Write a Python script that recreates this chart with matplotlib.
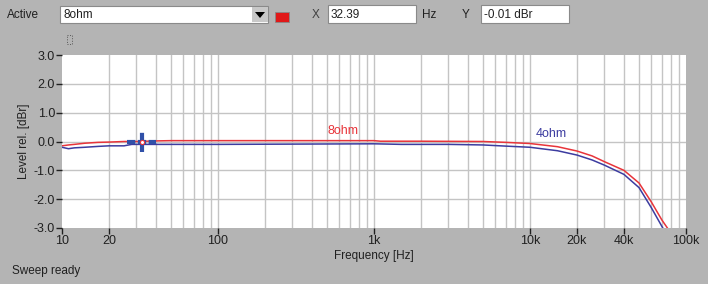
import matplotlib.pyplot as plt
from matplotlib.patches import Rectangle, Polygon

plt.rcParams['font.family'] = ['Liberation Sans', 'DejaVu Sans']

# 8ohm curve
f_8 = [10, 11, 12, 14, 17, 20, 25, 30, 40, 50, 100, 500, 1000, 1100, 2000,
       5000, 7000, 10000, 15000, 20000, 25000, 30000, 40000, 50000, 60000,
       70000, 76000]
lv_8 = [-0.15, -0.12, -0.1, -0.06, -0.03, -0.02, 0.0, 0.0, 0.02, 0.03, 0.03,
        0.03, 0.03, 0.01, 0.01, 0.0, -0.03, -0.07, -0.18, -0.33, -0.5, -0.7,
        -1.0, -1.44, -2.1, -2.72, -3.0]

# 4ohm curve
f_4 = [10, 11, 12, 14, 17, 20, 25, 28, 40, 100, 1000, 1500, 3000, 5000, 7000,
       10000, 15000, 20000, 25000, 30000, 40000, 50000, 60000, 71000]
lv_4 = [-0.2, -0.25, -0.22, -0.2, -0.17, -0.15, -0.15, -0.1, -0.1, -0.1, -0.08,
        -0.1, -0.1, -0.12, -0.16, -0.2, -0.32, -0.47, -0.64, -0.82, -1.14, -1.6,
        -2.3, -3.0]

cursor_f, cursor_y = 32.39, -0.01

xticks = [10, 20, 100, 1000, 10000, 20000, 40000, 100000]
xlabels = ['10', '20', '100', '1k', '10k', '20k', '40k', '100k']
yticks = [3, 2, 1, 0, -1, -2, -3]

bg = '#b4b4b4'
red = '#e8343a'
blue = '#3c3ca0'

fig = plt.figure(figsize=(7.08, 2.84), dpi=100, facecolor=bg)
ax = fig.add_axes([62 / 708, 56 / 284, 624 / 708, 173 / 284])
ax.set_facecolor('white')
ax.set_xscale('log')
ax.set_xlim(10, 100000)
ax.set_ylim(-3, 3)

# grid on every 1..9 multiple
minors = [m * 10 ** d for d in range(1, 5) for m in range(2, 10)] + [100, 1000, 10000]
for v in minors:
    ax.axvline(v, color='#c4c4c4', lw=1, zorder=0)
for v in [2, 1, 0, -1, -2]:
    ax.axhline(v, color='#c4c4c4', lw=1, zorder=0)

ax.plot(f_8, lv_8, color=red, lw=1.1, zorder=3)
ax.plot(f_4, lv_4, color=blue, lw=1.1, zorder=3)

# cursor
ax.plot([26, 40], [cursor_y, cursor_y], color='#3050a8', lw=3, ls=(0, (2, 0.6)), zorder=4)
ax.plot([cursor_f, cursor_f], [-0.37, 0.37], color='#3050a8', lw=3, ls=(0, (2, 0.6)), zorder=4)
ax.plot([cursor_f], [cursor_y], marker='o', ms=3, mfc='white', mec=red, mew=0.8, zorder=5)

ax.text(630, 0.15, '8ohm', color=red, fontsize=9, ha='center', va='bottom')
ax.text(13700, 0.05, '4ohm', color=blue, fontsize=9, ha='center', va='bottom')

for s in ax.spines.values():
    s.set_visible(False)
ax.set_xticks(xticks)
ax.set_xticklabels(xlabels)
ax.minorticks_off()
ax.set_yticks(yticks)
ax.set_yticklabels(['%.1f' % v for v in yticks])
ax.tick_params(axis='both', direction='out', length=4, width=1, color='#202020',
               labelsize=9, labelcolor='#202020', pad=1)
ax.set_xlabel('Frequency [Hz]', fontsize=8.5, color='#202020', labelpad=2)
ax.set_ylabel('Level rel. [dBr]', fontsize=8.5, color='#202020', labelpad=3)

# top toolbar and status text, drawn in pixel coords
ov = fig.add_axes([0, 0, 1, 1], facecolor='none')
ov.set_xlim(0, 708)
ov.set_ylim(284, 0)
ov.axis('off')

def box(x0, y0, x1, y1, fc='white'):
    ov.add_patch(Rectangle((x0, y0), x1 - x0, y1 - y0, fc=fc, ec='#8a8a8a', lw=0.8))

ov.text(7, 15, 'Active', fontsize=8.5, va='center', color='#202020')
box(60, 6, 268, 23)
ov.text(64, 15, '8ohm', fontsize=8.5, va='center', color='#202020')
ov.add_patch(Rectangle((252, 7), 16, 15, fc='#c8c8c8', ec='none'))
ov.add_patch(Polygon([(255, 12), (265, 12), (260, 18)], closed=True, fc='black'))
ov.add_patch(Rectangle((275, 12), 14, 10, fc='#e01818', ec='#888888', lw=0.6))
ov.text(316, 15, 'X', fontsize=8.5, va='center', ha='center', color='#404040')
box(328, 5, 416, 23)
ov.text(331, 15, '32.39', fontsize=8.5, va='center', color='#202020')
ov.text(422, 15, 'Hz', fontsize=8.5, va='center', color='#202020')
ov.text(466, 15, 'Y', fontsize=8.5, va='center', ha='center', color='#202020')
box(481, 5, 569, 23)
ov.text(484, 15, '-0.01 dBr', fontsize=8.5, va='center', color='#202020')
ov.add_patch(Rectangle((67, 35), 5, 9, fc='none', ec='#555555', lw=0.7, ls=':'))
ov.text(12, 271, 'Sweep ready', fontsize=8.5, va='center', color='#202020')

fig.savefig('out.png', dpi=100, facecolor=bg)
